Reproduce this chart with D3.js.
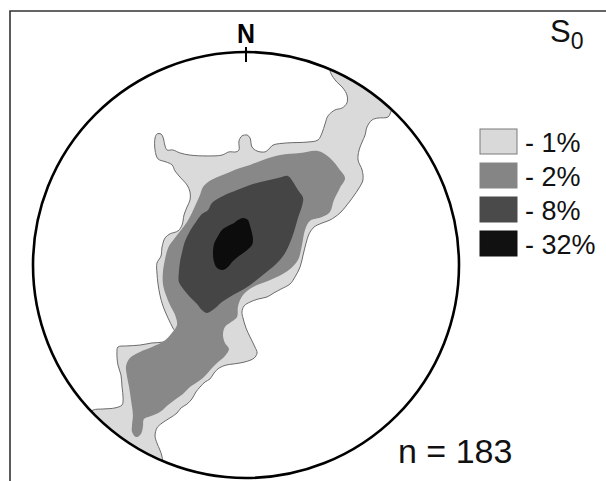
<!DOCTYPE html>
<html>
<head>
<meta charset="utf-8">
<script src="https://cdn.jsdelivr.net/npm/d3@7"></script>
<style>
  html, body { margin: 0; padding: 0; background: #fff; }
  svg { display: block; }
  text { font-family: "Liberation Sans", Arial, sans-serif; }
</style>
</head>
<body>
<svg id="chart" width="606" height="481"></svg>
<script>
// ---- DATA (projected stereonet coordinates, percent of primitive radius; x = east, y = north) ----
const levels = ["1%", "2%", "8%", "32%"];
const levelColors = ["#dadada", "#888888", "#454545", "#0c0c0c"];
const legendColors = ["#d9d9d9", "#858585", "#4a4a4a", "#111111"];
const title = "S";
const titleSub = "0";
const nPoles = 183;

const contour1 = [
  [46,106],[39.4,92.0],[41.8,86.9],[45.5,83.1],[47.4,79.8],[47.4,76.1],[45.1,73.7],[41.8,72.8],[38.5,70.0],
  [37.1,66.2],[35.7,62.0],[33.8,58.7],[28.6,57.7],[19.2,57.3],[12.7,56.3],[10.8,54.5],[8.9,53.1],[5.2,53.5],
  [2.8,55.4],[1.9,59.6],[0.5,61.0],[-1.9,60.6],[-3.3,58.2],[-3.3,54.0],[-4.7,53.1],[-8.0,53.1],[-11.3,51.6],
  [-18.3,51.2],[-26.3,51.6],[-31.0,52.6],[-34.3,54.0],[-37.1,54.0],[-38.0,55.9],[-39.0,60.1],[-39.9,61.5],
  [-41.8,61.5],[-42.7,59.6],[-42.7,54.0],[-41.3,49.8],[-37.6,48.4],[-34.7,47.0],[-33.3,44.1],[-31.0,41.3],
  [-27.7,37.6],[-26.3,34.3],[-26.3,30.5],[-27.7,27.2],[-29.1,23.5],[-30.0,18.8],[-31.9,16.0],[-35.7,14.6],
  [-38.0,12.7],[-39.4,8.5],[-39.9,4.2],[-41.8,0.9],[-41.8,-3.8],[-41.3,-8.9],[-40.4,-14.1],[-39.0,-19.2],
  [-36.6,-24.9],[-34.3,-29.6],[-32.9,-32.4],[-34.7,-34.7],[-39.0,-36.2],[-44.1,-36.6],[-49.8,-37.6],
  [-55.9,-38.0],[-60.1,-38.5],[-60.6,-41.3],[-60.1,-47.0],[-58.7,-51.6],[-58.2,-57.3],[-57.7,-62.4],
  [-58.2,-65.7],[-61.5,-67.1],[-67.1,-67.6],[-71.8,-68.1],[-77.9,-72.8],[-59.2,-100.9],[-39.4,-97.2],
  [-39.4,-90.1],[-40.4,-86.9],[-41.8,-83.6],[-42.7,-80.3],[-41.8,-76.5],[-39.4,-74.2],[-35.7,-71.8],
  [-32.4,-69.5],[-30.5,-67.1],[-27.7,-65.3],[-25.4,-62.9],[-23.5,-59.6],[-21.6,-57.3],[-19.2,-54.9],
  [-16.9,-53.5],[-15.0,-50.7],[-12.7,-48.4],[-9.4,-47.0],[-6.1,-46.5],[-0.5,-45.5],[3.8,-43.7],[5.2,-41.3],
  [4.2,-38.5],[1.9,-33.8],[0,-29.6],[-1.4,-24.9],[-1.9,-22.1],[-0.9,-19.2],[1.9,-17.4],[5.6,-16.0],
  [9.9,-15.0],[13.1,-13.1],[16.4,-11.3],[20.7,-8.9],[23.0,-5.6],[25.4,-0.9],[26.8,4.7],[28.2,10.3],
  [29.6,14.6],[31.9,17.8],[35.7,19.7],[39.4,21.1],[44.1,24.4],[47.4,28.2],[50.2,31.9],[53.1,36.2],
  [54.9,39.9],[54.5,44.6],[52.6,49.3],[53.1,54.0],[54.5,57.7],[55.9,61.0],[56.8,64.8],[59.2,68.1],
  [62.0,69.0],[66.7,69.5],[68.5,72.8],[81.7,86.9],[62.9,105.6]
];

const contour2 = [
  [-17.8,39.0],[-12.2,41.8],[-7.5,43.7],[-2.8,45.5],[1.9,47.0],[8.0,49.3],[16.0,51.6],[25.4,52.6],[33.8,53.5],
  [39.4,50.2],[44.1,44.6],[46.5,40.8],[44.1,36.2],[41.3,30.5],[39.4,24.9],[35.7,22.5],[30.0,20.7],[27.7,16.4],
  [26.3,9.4],[24.4,2.3],[20.7,-1.9],[15.5,-5.2],[10.3,-7.5],[5.2,-9.4],[0.5,-12.2],[-2.3,-15.5],[-3.8,-19.7],
  [-4.2,-24.4],[-7.0,-26.8],[-9.9,-29.1],[-10.8,-32.9],[-9.9,-36.6],[-8.0,-39.4],[-10.3,-43.2],[-13.6,-46.0],
  [-16.4,-48.8],[-18.8,-51.6],[-22.1,-54.5],[-26.3,-57.3],[-29.6,-60.6],[-32.9,-62.9],[-36.6,-65.7],
  [-40.4,-69.0],[-44.6,-70.9],[-47.9,-72.3],[-48.4,-76.1],[-49.3,-79.3],[-51.6,-80.8],[-53.5,-78.4],
  [-53.5,-75.1],[-53.1,-70.4],[-54.0,-63.4],[-54.9,-57.3],[-55.9,-52.1],[-56.3,-47.4],[-54.5,-43.7],
  [-49.8,-40.8],[-44.1,-38.5],[-38.5,-35.7],[-35.2,-32.4],[-32.4,-28.2],[-33.3,-23.5],[-35.7,-18.8],
  [-37.6,-14.1],[-39.0,-8.9],[-39.0,-3.3],[-38.0,2.8],[-36.6,8.0],[-33.8,12.2],[-30.5,16.4],[-27.7,20.2],
  [-25.4,24.4],[-23.5,28.6],[-21.6,32.9],[-20.2,36.6]
];

const contour8 = [
  [-17.8,25.8],[-16.0,29.1],[-10.8,32.4],[-4.2,35.2],[1.9,37.6],[8.9,39.4],[15.0,40.8],[19.7,41.8],[22.1,39.0],
  [24.4,35.2],[26.8,31.5],[26.3,27.7],[24.4,22.1],[22.5,15.5],[20.2,9.4],[17.4,4.2],[13.1,-0.5],[8.5,-4.2],
  [3.8,-8.0],[-0.9,-11.3],[-6.1,-14.1],[-11.3,-17.4],[-15.0,-20.7],[-18.3,-22.5],[-20.7,-21.1],[-23.0,-18.3],
  [-26.3,-15.0],[-29.1,-11.7],[-31.5,-8.0],[-31.5,-3.3],[-31.0,1.4],[-30.0,6.1],[-28.6,11.3],[-26.3,16.0],
  [-23.5,20.2],[-20.7,23.9]
];

const contour32 = [
  [-1.4,22.1],[0.9,21.1],[1.9,18.3],[2.8,15.0],[3.3,11.7],[2.8,9.4],[0,6.6],[-3.3,4.2],[-6.1,1.9],[-8.5,-0.9],
  [-10.8,-2.3],[-13.6,-1.4],[-15.0,1.4],[-15.5,5.6],[-15.0,9.9],[-13.1,13.6],[-11.3,16.4],[-8.5,18.3],
  [-5.6,19.7],[-3.8,21.1]
];

const contours = [contour1, contour2, contour8, contour32];

// ---- LAYOUT ----
const cx = 246, cy = 265, R = 213;
const svg = d3.select("#chart");

const x = d3.scaleLinear().domain([-100, 100]).range([cx - R, cx + R]);
const y = d3.scaleLinear().domain([-100, 100]).range([cy + R, cy - R]);

// frame (top and left edges)
svg.append("path")
  .attr("d", "M10,481 L10,11 L606,11")
  .attr("fill", "none").attr("stroke", "#333").attr("stroke-width", 1.6);

// clip to primitive circle
svg.append("defs").append("clipPath").attr("id", "net")
  .append("circle").attr("cx", x(0)).attr("cy", y(0)).attr("r", x(100) - x(0));

const line = d3.line().x(d => x(d[0])).y(d => y(d[1])).curve(d3.curveCatmullRomClosed.alpha(0.5));

const g = svg.append("g").attr("clip-path", "url(#net)");
g.selectAll("path.contour")
  .data(contours)
  .join("path")
  .attr("class", "contour")
  .attr("d", d => line(d))
  .attr("fill", (d, i) => levelColors[i])
  .attr("stroke", (d, i) => i === 0 ? "#6a6a6a" : "none")
  .attr("stroke-width", 1)
  .attr("stroke-linejoin", "round");

// primitive circle
svg.append("circle")
  .attr("cx", x(0)).attr("cy", y(0)).attr("r", x(100) - x(0))
  .attr("fill", "none").attr("stroke", "#000").attr("stroke-width", 2.6);

// North tick and label
svg.append("line")
  .attr("x1", x(0)).attr("x2", x(0))
  .attr("y1", y(100) - 5).attr("y2", y(100) + 10)
  .attr("stroke", "#000").attr("stroke-width", 2);
svg.append("text")
  .attr("x", x(0)).attr("y", y(100) - 9)
  .attr("text-anchor", "middle")
  .attr("font-size", 27).attr("font-weight", "bold")
  .attr("textLength", 18).attr("lengthAdjust", "spacingAndGlyphs")
  .text("N");

// title S0
const t = svg.append("text").attr("x", 550).attr("y", 42).attr("font-size", 31).attr("fill", "#111");
t.append("tspan").text(title);
t.append("tspan").attr("font-size", 23).attr("dy", 7).text(titleSub);

// legend
const lg = svg.append("g").attr("transform", "translate(480,129)");
const items = lg.selectAll("g").data(levels).join("g")
  .attr("transform", (d, i) => `translate(0,${i * 34})`);
items.append("rect")
  .attr("width", 37).attr("height", 25)
  .attr("fill", (d, i) => legendColors[i])
  .attr("stroke", (d, i) => i === 0 ? "#7a7a7a" : legendColors[i])
  .attr("stroke-width", 1);
items.append("text")
  .attr("x", 45).attr("y", 23)
  .attr("font-size", 27).attr("fill", "#111")
  .text(d => "- " + d);

// n label
svg.append("text")
  .attr("x", 398).attr("y", 463)
  .attr("font-size", 34).attr("fill", "#111")
  .text("n = " + nPoles);
</script>
</body>
</html>
